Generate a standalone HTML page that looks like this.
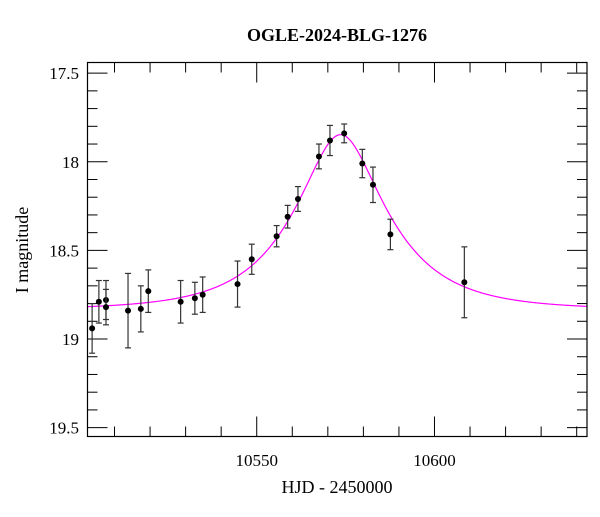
<!DOCTYPE html>
<html><head><meta charset="utf-8"><style>
body{margin:0;background:#fff}
svg text{font-family:"Liberation Serif",serif;fill:#000}
</style></head><body>
<svg id="chart" width="600" height="512" xmlns="http://www.w3.org/2000/svg">
<text x="337" y="41" text-anchor="middle" font-size="18" font-weight="bold">OGLE-2024-BLG-1276</text>
<text x="337" y="493" text-anchor="middle" font-size="18">HJD - 2450000</text>
<text transform="translate(28,250) rotate(-90)" text-anchor="middle" font-size="18">I magnitude</text>
<g id="ticks"></g>
<path id="model" fill="none" stroke="#ff00ff" stroke-width="1.2"/>
<g id="pts"></g>
<rect x="87.5" y="62.5" width="499.5" height="374" fill="none" stroke="#000" stroke-width="1.2"/>
</svg>
<script>
const days=[10503.7,10505.6,10507.6,10507.6,10513.8,10517.4,10519.5,10528.6,10532.6,10534.8,10544.6,10548.6,10555.6,10558.7,10561.6,10567.5,10570.6,10574.6,10579.7,10582.7,10587.6,10608.4];
const mags=[18.94,18.79,18.78,18.82,18.84,18.83,18.73,18.79,18.77,18.75,18.69,18.55,18.42,18.31,18.21,17.97,17.88,17.84,18.01,18.13,18.41,18.68];
const errs=[0.14,0.12,0.11,0.10,0.21,0.13,0.12,0.12,0.09,0.10,0.13,0.085,0.06,0.064,0.07,0.07,0.085,0.053,0.08,0.10,0.086,0.2];
const xTicks=[10550,10600];
const yTicks=[17.5,18,18.5,19,19.5];
const yTickLabels=["17.5","18","18.5","19","19.5"];
const modelParams=[10573.6,0.43,23.7,18.835]; // t0,u0,tE,Ibase
const X0=87.5,X1=587,Y0=62.5,Y1=436.5;
const xmin=10502.4,xmax=10642.9,ymin=17.44,ymax=19.55;
const sx=d=>X0+(d-xmin)/(xmax-xmin)*(X1-X0);
const sy=m=>Y0+(m-ymin)/(ymax-ymin)*(Y1-Y0);
const NS="http://www.w3.org/2000/svg";
function mk(t,a,p){const e=document.createElementNS(NS,t);for(const k in a)e.setAttribute(k,a[k]);p.appendChild(e);return e;}
const tg=document.getElementById('ticks');
for(let d=10510;d<=10640;d+=10){const x=sx(d);const maj=d%50==0;const L=maj?20:10;
 const t1=mk('line',{x1:x,x2:x,y1:Y1,y2:Y1-L,stroke:'#000'},tg);
 
 
 const t2=mk('line',{x1:x,x2:x,y1:Y0,y2:Y0+L,stroke:'#000'},tg);
 
 }
xTicks.forEach(d=>{const t=mk('text',{x:sx(d),y:466,'text-anchor':'middle','font-size':17},tg);t.textContent=String(d);
 
 });
for(let i=175;i<=195;i++){const m=i/10;const y=sy(m);const maj=i%5==0;const L=maj?20:10;
 const t1=mk('line',{x1:X0,x2:X0+L,y1:y,y2:y,stroke:'#000'},tg);
 
 
 const t2=mk('line',{x1:X1,x2:X1-L,y1:y,y2:y,stroke:'#000'},tg);
 
 }
yTicks.forEach((m,i)=>{const t=mk('text',{x:79,y:sy(m)+6,'text-anchor':'end','font-size':17},tg);t.textContent=yTickLabels[i];
 
 });
function model(t){const [t0,u0,tE,Ib]=modelParams;const tau=(t-t0)/tE;const u=Math.sqrt(tau*tau+u0*u0);
 const A=(u*u+2)/(u*Math.sqrt(u*u+4));return Ib-2.5*Math.log10(A);}
let d='';for(let t=xmin;t<=xmax;t+=0.25){d+=(d?'L':'M')+sx(t).toFixed(2)+','+sy(model(t)).toFixed(2);}
document.getElementById('model').setAttribute('d',d);
const pg=document.getElementById('pts');
days.forEach((t,i)=>{const x=sx(t),y=sy(mags[i]),ya=sy(mags[i]-errs[i]),yb=sy(mags[i]+errs[i]);
 const g=mk('g',{},pg);
 
 
 mk('line',{x1:x,x2:x,y1:ya,y2:yb,stroke:'#333','stroke-width':1.2},g);
 mk('line',{x1:x-3,x2:x+3,y1:ya,y2:ya,stroke:'#333','stroke-width':1.2},g);
 mk('line',{x1:x-3,x2:x+3,y1:yb,y2:yb,stroke:'#333','stroke-width':1.2},g);
 mk('circle',{cx:x,cy:y,r:3,fill:'#000'},g);});
</script>
</body></html>
